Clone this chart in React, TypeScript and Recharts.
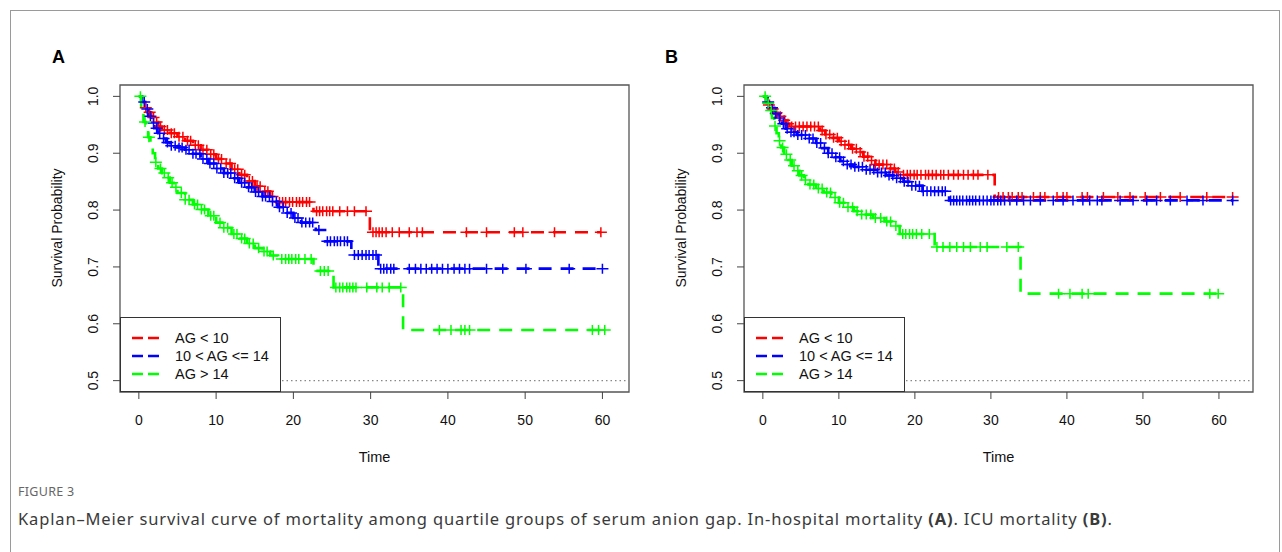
import React from "react";
import {
  ComposedChart,
  Label,
  Legend,
  Line,
  ReferenceArea,
  ReferenceLine,
  XAxis,
  YAxis,
} from "recharts";

const groupNames = ["AG < 10", "10 < AG <= 14", "AG > 14"];
const groupColors = ["#ff0000", "#0000ff", "#00ff00"];
const timeTicks = [0, 10, 20, 30, 40, 50, 60];
const survTicks = [0.5, 0.6, 0.7, 0.8, 0.9, 1.0];

// (A) in-hospital mortality: event times, survival after each event, censor times
const aLowTime = [0, 0.4, 0.8, 1.2, 1.6, 2.0, 2.5, 3.0, 4.0, 5.0, 6.0, 7.0, 8.0, 9.0, 10.0, 11.0, 12.0, 13.0, 14.0, 15.0, 16.0, 17.0, 17.8, 22.6, 29.9];
const aLowSurv = [1, 0.99, 0.98, 0.972, 0.963, 0.955, 0.947, 0.941, 0.935, 0.929, 0.922, 0.914, 0.906, 0.898, 0.89, 0.882, 0.872, 0.862, 0.851, 0.842, 0.833, 0.824, 0.814, 0.798, 0.761];
const aLowCens = [0.9, 1.4, 1.9, 2.3, 2.8, 3.3, 3.7, 4.2, 4.6, 5.2, 5.7, 6.3, 6.7, 7.3, 7.7, 8.3, 8.8, 9.3, 9.7, 10.3, 10.7, 11.3, 11.8, 12.4, 12.8, 13.3, 13.7, 14.3, 14.7, 15.3, 15.7, 16.3, 16.7, 17.3, 18.2, 18.6, 19.0, 19.5, 19.9, 20.4, 20.8, 21.2, 21.7, 22.1, 23.0, 23.4, 23.8, 24.3, 24.7, 25.1, 26.0, 27.0, 27.9, 29.4, 30.3, 30.7, 31.1, 31.5, 32.0, 32.8, 33.7, 35.0, 36.0, 36.7, 42.4, 45.0, 48.6, 49.7, 53.8, 59.8];

const aMidTime = [0, 0.4, 0.8, 1.2, 1.6, 2.0, 2.5, 3.0, 3.5, 4.0, 5.0, 6.0, 7.0, 8.0, 9.0, 10.0, 11.0, 12.0, 13.0, 14.0, 15.0, 16.0, 17.0, 18.0, 19.0, 20.0, 21.0, 22.9, 24.1, 27.5, 31.0];
const aMidSurv = [1, 0.99, 0.978, 0.965, 0.953, 0.944, 0.935, 0.926, 0.919, 0.913, 0.91, 0.906, 0.899, 0.89, 0.882, 0.873, 0.865, 0.856, 0.848, 0.84, 0.832, 0.824, 0.815, 0.805, 0.795, 0.786, 0.778, 0.765, 0.745, 0.721, 0.697];
const aMidCens = [0.7, 1.1, 1.5, 1.9, 2.3, 2.7, 3.2, 3.7, 4.2, 4.7, 5.2, 5.6, 6.1, 6.5, 7.0, 7.4, 7.9, 8.3, 8.8, 9.2, 9.7, 10.1, 10.6, 11.0, 11.5, 11.9, 12.4, 12.8, 13.3, 13.7, 14.2, 14.6, 15.1, 15.5, 16.0, 16.4, 16.9, 17.3, 17.8, 18.2, 18.7, 19.2, 19.7, 20.2, 20.6, 21.1, 21.6, 22.1, 22.5, 23.3, 24.4, 24.8, 25.3, 25.7, 26.1, 26.6, 27.0, 27.9, 28.4, 28.9, 29.4, 29.8, 30.3, 30.7, 31.3, 31.7, 32.1, 32.6, 33.0, 35.0, 35.8, 36.5, 37.2, 37.9, 38.6, 39.3, 40.0, 40.8, 41.5, 42.2, 42.8, 45.0, 47.1, 50.1, 55.7, 60.0];

const aHighTime = [0, 0.3, 0.6, 0.9, 1.2, 1.5, 1.8, 2.1, 2.5, 3.0, 3.5, 4.0, 4.5, 5.0, 6.0, 7.0, 8.0, 9.0, 10.0, 11.0, 12.0, 13.0, 14.0, 15.0, 16.0, 17.0, 18.0, 22.6, 25.2, 34.2];
const aHighSurv = [1, 0.977, 0.955, 0.94, 0.928, 0.916, 0.9, 0.884, 0.873, 0.865, 0.857, 0.848, 0.84, 0.83, 0.818, 0.81, 0.801, 0.79, 0.778, 0.769, 0.758, 0.75, 0.741, 0.733, 0.727, 0.72, 0.714, 0.693, 0.664, 0.589];
const aHighCens = [0.2, 0.8, 1.3, 2.2, 2.8, 3.3, 3.8, 4.3, 4.8, 5.5, 6.0, 6.5, 7.2, 7.6, 8.1, 8.5, 9.3, 9.7, 10.5, 11.0, 11.5, 12.3, 12.7, 13.3, 13.7, 14.3, 14.8, 15.5, 16.2, 16.6, 17.4, 18.5, 19.0, 19.4, 19.8, 20.3, 20.7, 21.5, 22.3, 23.5, 24.0, 24.5, 25.5, 26.0, 26.4, 26.9, 27.3, 27.7, 28.1, 29.5, 30.8, 31.5, 32.4, 33.9, 38.9, 40.4, 41.7, 42.2, 42.8, 58.7, 59.5, 60.3];

// (B) ICU mortality
const bLowTime = [0, 0.4, 0.8, 1.2, 1.6, 2.0, 2.5, 3.0, 3.5, 7.5, 8.2, 9.0, 10.0, 10.8, 11.6, 12.4, 13.2, 14.0, 14.8, 16.5, 17.4, 18.2, 30.5];
const bLowSurv = [1, 0.992, 0.985, 0.978, 0.971, 0.965, 0.958, 0.952, 0.947, 0.94, 0.933, 0.927, 0.921, 0.915, 0.908, 0.902, 0.894, 0.887, 0.88, 0.873, 0.867, 0.862, 0.823];
const bLowCens = [0.8, 1.3, 1.8, 2.3, 2.8, 3.3, 3.8, 4.3, 4.8, 5.3, 5.8, 6.3, 6.8, 7.3, 7.8, 8.3, 8.8, 9.3, 9.8, 10.3, 10.8, 11.3, 11.8, 12.3, 12.8, 13.3, 13.8, 14.3, 14.8, 15.3, 15.8, 16.3, 16.8, 17.3, 17.8, 18.5, 19.0, 19.4, 19.9, 20.3, 20.8, 21.4, 21.8, 22.3, 22.8, 23.4, 23.8, 24.4, 25.1, 25.7, 26.4, 27.0, 27.7, 28.3, 29.6, 31.0, 31.6, 32.3, 32.8, 33.6, 34.1, 35.6, 36.5, 37.1, 38.7, 39.5, 40.0, 42.0, 42.7, 44.8, 46.7, 48.3, 50.3, 52.3, 54.9, 58.4, 61.8];

const bMidTime = [0, 0.5, 1.0, 1.5, 2.0, 2.5, 3.0, 3.5, 4.5, 6.0, 7.0, 7.8, 8.6, 9.4, 10.2, 11.0, 12.0, 13.5, 15.0, 16.2, 17.5, 18.5, 19.5, 21.0, 24.5];
const bMidSurv = [1, 0.99, 0.98, 0.97, 0.962, 0.952, 0.943, 0.937, 0.932, 0.926, 0.918, 0.909, 0.9, 0.893, 0.886, 0.88, 0.876, 0.871, 0.866, 0.861, 0.856, 0.85, 0.843, 0.833, 0.817];
const bMidCens = [0.7, 1.2, 1.7, 2.2, 2.7, 3.2, 3.7, 4.1, 4.6, 5.1, 5.6, 6.1, 6.6, 7.1, 7.6, 8.1, 8.6, 9.1, 9.6, 10.1, 10.6, 11.1, 11.6, 12.1, 12.6, 13.1, 13.6, 14.1, 14.6, 15.1, 15.6, 16.1, 16.6, 17.1, 17.6, 18.1, 18.6, 19.1, 19.6, 20.1, 20.6, 21.1, 21.6, 22.1, 22.6, 23.1, 23.6, 24.0, 24.7, 25.1, 25.5, 25.9, 26.3, 26.8, 27.2, 27.6, 28.0, 28.5, 29.0, 29.5, 30.0, 30.4, 30.9, 31.3, 31.8, 32.5, 33.4, 34.3, 35.2, 36.5, 38.2, 39.5, 40.8, 42.1, 43.0, 44.0, 44.6, 47.0, 48.7, 50.5, 51.8, 53.6, 55.8, 57.9, 61.8];

const bHighTime = [0, 0.5, 0.9, 1.2, 1.5, 1.8, 2.1, 2.4, 2.8, 3.3, 3.8, 4.3, 4.8, 5.4, 6.0, 7.0, 8.0, 9.0, 10.0, 11.0, 12.0, 13.0, 14.5, 16.0, 17.0, 18.0, 22.6, 33.9];
const bHighSurv = [1, 0.988, 0.975, 0.962, 0.948, 0.935, 0.922, 0.91, 0.898, 0.888, 0.878, 0.869, 0.861, 0.853, 0.845, 0.838, 0.831, 0.822, 0.813, 0.805, 0.798, 0.792, 0.786, 0.78, 0.772, 0.758, 0.735, 0.653];
const bHighCens = [0.3, 0.7, 1.1, 1.6, 2.2, 2.6, 3.1, 3.6, 4.1, 4.6, 5.1, 5.6, 6.2, 6.7, 7.3, 7.8, 8.4, 8.9, 9.5, 10.1, 10.6, 11.2, 11.8, 12.4, 13.0, 13.6, 14.2, 14.8, 15.5, 16.3, 16.8, 17.5, 18.4, 18.8, 19.3, 19.7, 20.2, 20.9, 21.9, 22.9, 23.7, 24.6, 25.5, 26.4, 27.3, 28.6, 29.5, 32.1, 33.6, 38.9, 40.4, 42.0, 42.8, 58.8, 59.9];

type Pt = { t: number; s: number; c?: number };

// merge events and censored times into one step series (censored points sit on the current step)
function kmData(time: number[], surv: number[], cens: number[]): Pt[] {
  const pts: Pt[] = time.map((t, i) => ({ t, s: surv[i] }));
  cens.forEach((t) => {
    let s = surv[0];
    time.forEach((tt, i) => {
      if (tt <= t) s = surv[i];
    });
    pts.push({ t, s, c: 1 });
  });
  return pts.sort((a, b) => a.t - b.t || (a.c ? 1 : 0) - (b.c ? 1 : 0));
}

const FONT = "'Liberation Sans', Arial, sans-serif";
const DASH = "13 9";

const censorDot = (color: string) => (p: any) => {
  const k = `d${p.index}`;
  if (!p.payload || !p.payload.c) return <g key={k} />;
  return (
    <path
      key={k}
      d={`M${p.cx - 6},${p.cy}h12M${p.cx},${p.cy - 5}v10`}
      stroke={color}
      strokeWidth={1.5}
      fill="none"
    />
  );
};

function LegendBox() {
  return (
    <div
      style={{
        width: 161,
        height: 75,
        boxSizing: "border-box",
        background: "#fff",
        border: "1px solid #333",
        position: "relative",
        fontFamily: FONT,
        fontSize: 14.5,
        color: "#111",
      }}
    >
      {groupNames.map((n, i) => (
        <div key={n} style={{ position: "absolute", left: 0, top: 11 + i * 18, height: 18, display: "flex", alignItems: "center" }}>
          <svg width={54} height={18}>
            <line x1={11} x2={38} y1={9} y2={9} stroke={groupColors[i]} strokeWidth={2.4} strokeDasharray="11 5" />
          </svg>
          <span>{n}</span>
        </div>
      ))}
    </div>
  );
}

type Group = { time: number[]; surv: number[]; cens: number[] };

function Panel({ domain, groups }: { domain: [number, number]; groups: Group[] }) {
  return (
    <ComposedChart width={640} height={480} margin={{ top: 85, right: 11, bottom: 8, left: 0 }}>
      <XAxis
        type="number"
        dataKey="t"
        domain={domain}
        allowDataOverflow
        ticks={timeTicks}
        axisLine={false}
        tickSize={7}
        tickLine={{ stroke: "#444" }}
        height={80}
        tick={(p: any) => (
          <text x={p.x} y={425} textAnchor="middle" fontFamily={FONT} fontSize={14} fill="#111">
            {p.payload.value}
          </text>
        )}
      >
        <Label
          content={(p: any) => (
            <text x={p.viewBox.x + p.viewBox.width / 2} y={462} textAnchor="middle" fontFamily={FONT} fontSize={14.5} fill="#111">
              Time
            </text>
          )}
        />
      </XAxis>
      <YAxis
        type="number"
        dataKey="s"
        domain={[0.48, 1.02]}
        allowDataOverflow
        ticks={survTicks}
        axisLine={false}
        tickSize={7}
        tickLine={{ stroke: "#444" }}
        width={120}
        tick={(p: any) => (
          <text
            x={98}
            y={p.y}
            transform={`rotate(-90 98 ${p.y})`}
            textAnchor="middle"
            fontFamily={FONT}
            fontSize={14}
            fill="#111"
          >
            {p.payload.value.toFixed(1)}
          </text>
        )}
      >
        <Label
          content={() => (
            <text x={62} y={228} transform="rotate(-90 62 228)" textAnchor="middle" fontFamily={FONT} fontSize={14} fill="#111">
              Survival Probability
            </text>
          )}
        />
      </YAxis>
      <ReferenceLine y={0.5} stroke="#888" strokeDasharray="1.5 3" strokeWidth={1.2} />
      {groups.map((g, i) => (
        <Line
          key={groupNames[i]}
          name={groupNames[i]}
          data={kmData(g.time, g.surv, g.cens)}
          dataKey="s"
          type="stepAfter"
          stroke={groupColors[i]}
          strokeWidth={2.6}
          strokeDasharray={DASH}
          dot={censorDot(groupColors[i])}
          activeDot={false}
          isAnimationActive={false}
        />
      ))}
      <ReferenceArea
        x1={domain[0]}
        x2={domain[1]}
        y1={0.48}
        y2={1.02}
        fill="none"
        fillOpacity={0}
        stroke="#555"
        strokeWidth={1.3}
      />
      <Legend
        layout="vertical"
        align="center"
        verticalAlign="middle"
        wrapperStyle={{ left: 120, top: 317, width: 161, height: 75 }}
        content={() => <LegendBox />}
      />
    </ComposedChart>
  );
}

export default function App() {
  const groupsA: Group[] = [
    { time: aLowTime, surv: aLowSurv, cens: aLowCens },
    { time: aMidTime, surv: aMidSurv, cens: aMidCens },
    { time: aHighTime, surv: aHighSurv, cens: aHighCens },
  ];
  const groupsB: Group[] = [
    { time: bLowTime, surv: bLowSurv, cens: bLowCens },
    { time: bMidTime, surv: bMidSurv, cens: bMidCens },
    { time: bHighTime, surv: bHighSurv, cens: bHighCens },
  ];
  return (
    <div style={{ position: "absolute", left: 0, top: 0, width: 1282, height: 552, background: "#fff", overflow: "hidden" }}>
      <div style={{ position: "absolute", left: 10, top: 10, width: 1268, height: 600, border: "1px solid #9a9a9a" }} />
      <div style={{ position: "absolute", left: 0, top: 0 }}>
        <Panel domain={[-2.44, 63.44]} groups={groupsA} />
      </div>
      <div style={{ position: "absolute", left: 624, top: 0 }}>
        <Panel domain={[-2.48, 64.48]} groups={groupsB} />
      </div>
      <div style={{ position: "absolute", left: 52, top: 47, fontFamily: FONT, fontWeight: 700, fontSize: 18, color: "#000" }}>A</div>
      <div style={{ position: "absolute", left: 665, top: 47, fontFamily: FONT, fontWeight: 700, fontSize: 18, color: "#000" }}>B</div>
      <div style={{ position: "absolute", left: 18, top: 483, fontFamily: "'Noto Sans', sans-serif", fontSize: 12.5, color: "#666", letterSpacing: 0.3 }}>
        FIGURE 3
      </div>
      <div style={{ position: "absolute", left: 18, top: 507, fontFamily: "'Noto Sans', sans-serif", fontSize: 16.5, letterSpacing: 0.85, color: "#3a3a3a", whiteSpace: "nowrap" }}>
        Kaplan–Meier survival curve of mortality among quartile groups of serum anion gap. In-hospital mortality <b>(A)</b>. ICU mortality <b>(B)</b>.
      </div>
    </div>
  );
}
